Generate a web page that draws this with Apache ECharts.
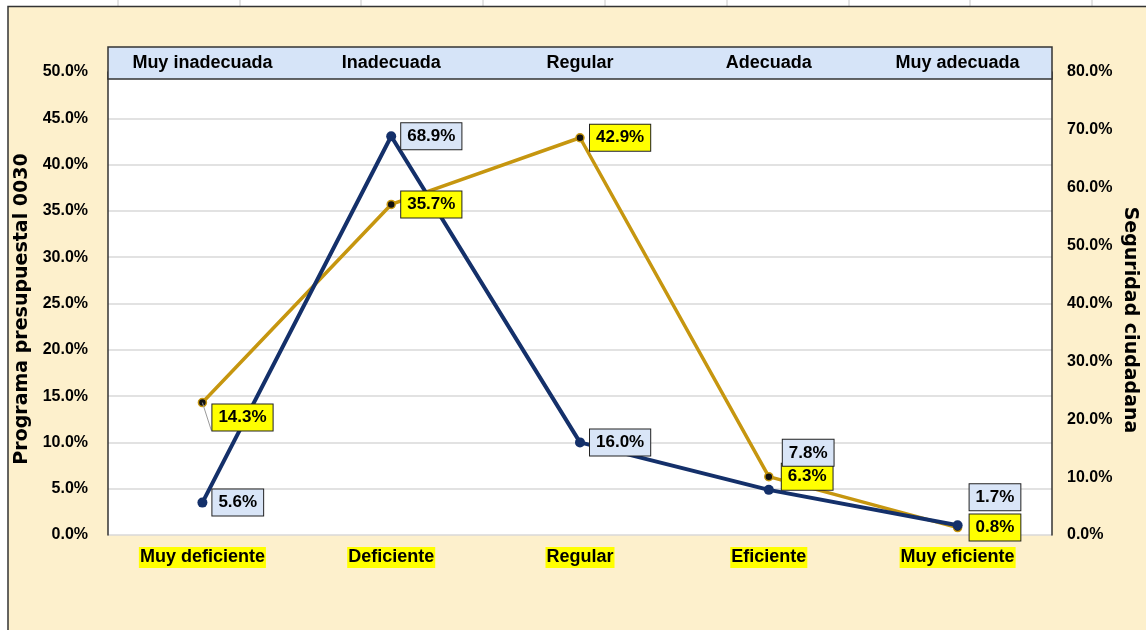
<!DOCTYPE html>
<html>
<head>
<meta charset="utf-8">
<script src="https://cdn.jsdelivr.net/npm/echarts@6/dist/echarts.min.js"></script>
<style>html,body{margin:0;padding:0;background:#fff}#c{width:1146px;height:630px}</style>
</head>
<body>
<div id="c"></div>
<script>
const topCats = ['Muy inadecuada', 'Inadecuada', 'Regular', 'Adecuada', 'Muy adecuada'];
const bottomCats = ['Muy deficiente', 'Deficiente', 'Regular', 'Eficiente', 'Muy eficiente'];
const programaValues = [14.3, 35.7, 42.9, 6.3, 0.8];    // left axis, gold
const seguridadValues = [5.6, 68.9, 16.0, 7.8, 1.7];    // right axis, navy
const leftAxisName = 'Programa presupuestal 0030';
const rightAxisName = 'Seguridad ciudadana';
const leftMax = 50, leftStep = 5;
const rightMax = 80, rightStep = 10;

const FONT = '"Liberation Sans", Arial, sans-serif';
const NAVY = '#14306A';
const GOLD = '#C6960F';
const pct = v => (typeof v === 'object' ? v.value : v).toFixed(1) + '%';

// per-point label placement tweaks (styling only)
const goldLabelTweaks = { 0: { offset: [0, 15], labelLine: true }, 3: { distance: 13 }, 4: { distance: 12 } };
const navyLabelTweaks = { 3: { offset: [0, -37], distance: 14 }, 4: { offset: [0, -28], distance: 12 } };

function buildLabelData(values, tweaks) {
  return values.map((v, i) => {
    const t = tweaks[i];
    if (!t) return v;
    const item = { value: v, label: {} };
    if (t.offset) item.label.offset = t.offset;
    if (t.distance) item.label.distance = t.distance;
    if (t.labelLine) item.labelLine = { show: true, lineStyle: { color: '#9a9a9a', width: 1, opacity: 1 } };
    return item;
  });
}

const labelBase = {
  show: true, position: 'right', distance: 10, formatter: p => pct(p.value),
  fontFamily: FONT, fontSize: 17, fontWeight: 'bold', color: '#000', opacity: 1,
  borderColor: '#222', borderWidth: 1, padding: [5, 6, 4, 6]
};

const chart = echarts.init(document.getElementById('c'), null, { renderer: 'canvas' });
const stripLines = [118, 240, 361, 483, 605, 727, 849, 970, 1092].map(x => ({
  type: 'line', shape: { x1: x, y1: 0, x2: x, y2: 6 }, style: { stroke: '#c8c8c8', lineWidth: 1 }, z: 1
}));

chart.setOption({
  backgroundColor: '#FDF0CC',
  animation: false,
  grid: { left: 108, right: 94, top: 72, bottom: 95, show: true, backgroundColor: '#ffffff', borderWidth: 0 },
  xAxis: [
    {
      type: 'category', data: bottomCats, position: 'bottom', boundaryGap: true,
      axisLine: { show: false }, axisTick: { show: false },
      axisLabel: { margin: 12, fontFamily: FONT, fontSize: 18, fontWeight: 'bold', color: '#000',
        backgroundColor: '#FFFF00', padding: [1, 1, 1, 1], lineHeight: 19 }
    },
    {
      type: 'category', data: topCats, position: 'top', offset: 25, boundaryGap: true, z: 10,
      axisLine: { show: false }, axisTick: { show: false },
      axisLabel: { inside: true, margin: 7, fontFamily: FONT, fontSize: 18, fontWeight: 'bold', color: '#000' }
    }
  ],
  yAxis: [
    {
      type: 'value', position: 'left', min: 0, max: leftMax, interval: leftStep,
      axisLine: { show: true, lineStyle: { color: '#333', width: 1.5 } }, axisTick: { show: false },
      axisLabel: { margin: 20, formatter: v => v.toFixed(1) + '%', fontFamily: FONT, fontSize: 16, fontWeight: 'bold', color: '#000' },
      splitLine: { show: true, lineStyle: { color: '#d9d9d9', width: 1.5 } }
    },
    {
      type: 'value', position: 'right', min: 0, max: rightMax, interval: rightStep,
      axisLine: { show: true, lineStyle: { color: '#333', width: 1.5 } }, axisTick: { show: false },
      axisLabel: { margin: 15, formatter: v => v.toFixed(1) + '%', fontFamily: FONT, fontSize: 16, fontWeight: 'bold', color: '#000' },
      splitLine: { show: false }
    }
  ],
  series: [
    {
      name: leftAxisName, type: 'line', xAxisIndex: 0, yAxisIndex: 0,
      data: programaValues,
      symbol: 'circle', symbolSize: 8,
      lineStyle: { color: GOLD, width: 3.5 },
      itemStyle: { color: '#111', borderColor: GOLD, borderWidth: 1.5 },
      z: 3
    },
    {
      name: rightAxisName, type: 'line', xAxisIndex: 1, yAxisIndex: 1,
      data: seguridadValues,
      symbol: 'circle', symbolSize: 10,
      lineStyle: { color: NAVY, width: 4 },
      itemStyle: { color: NAVY },
      z: 4
    },
    {
      name: leftAxisName + ' etiquetas', type: 'scatter', xAxisIndex: 0, yAxisIndex: 0,
      data: buildLabelData(programaValues, goldLabelTweaks),
      symbolSize: 0, silent: true,
      itemStyle: { opacity: 1, color: GOLD },
      label: Object.assign({}, labelBase, { backgroundColor: '#FFFF00' }),
      z: 10
    },
    {
      name: rightAxisName + ' etiquetas', type: 'scatter', xAxisIndex: 1, yAxisIndex: 1,
      data: buildLabelData(seguridadValues, navyLabelTweaks),
      symbolSize: 0, silent: true,
      itemStyle: { opacity: 1, color: NAVY },
      label: Object.assign({}, labelBase, { backgroundColor: '#D9E5F7' }),
      z: 11
    }
  ],
  graphic: [
    { type: 'rect', shape: { x: 0, y: 0, width: 1146, height: 6 }, style: { fill: '#ffffff' }, z: 0 },
    { type: 'rect', shape: { x: 0, y: 0, width: 8, height: 630 }, style: { fill: '#ffffff' }, z: 0 },
    ...stripLines,
    { type: 'polyline', shape: { points: [[8, 630], [8, 6.5], [1146, 6.5]] }, style: { stroke: '#333', lineWidth: 1.5, fill: null }, z: 2 },
    { type: 'rect', shape: { x: 108, y: 47, width: 944, height: 32 }, style: { fill: '#D6E4F8', stroke: '#333', lineWidth: 1.5 }, z: 5 },
    { type: 'text', x: 22, y: 309, rotation: Math.PI / 2,
      style: { text: leftAxisName, fontFamily: '"DejaVu Sans", sans-serif', fontSize: 19, fontWeight: 'bold', fill: '#000', align: 'center', verticalAlign: 'middle' } },
    { type: 'text', x: 1130, y: 320, rotation: -Math.PI / 2,
      style: { text: rightAxisName, fontFamily: '"DejaVu Sans", sans-serif', fontSize: 19, fontWeight: 'bold', fill: '#000', align: 'center', verticalAlign: 'middle' } }
  ]
});
</script>
</body>
</html>
